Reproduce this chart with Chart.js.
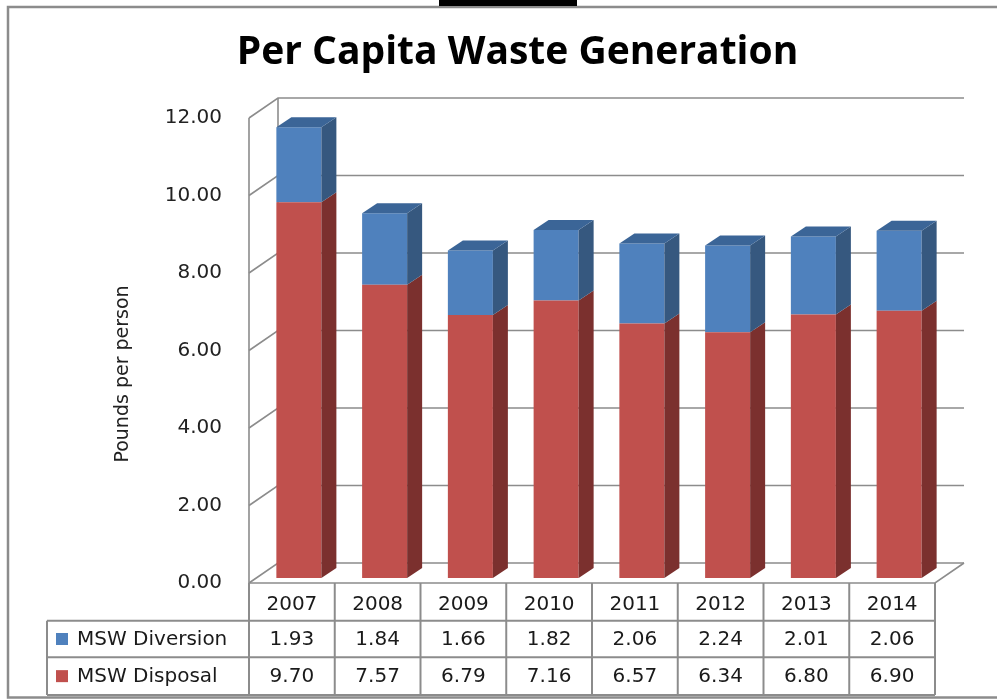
<!DOCTYPE html>
<html>
<head>
<meta charset="utf-8">
<title>Per Capita Waste Generation</title>
<script src="https://cdn.jsdelivr.net/npm/chart.js"></script>
<style>
  html, body { margin: 0; padding: 0; background: #fff; }
  #wrap { width: 997px; height: 700px; position: relative; }
</style>
</head>
<body>
<div id="wrap"><canvas id="chart" width="997" height="700"></canvas></div>
<script>
// values (data table under the chart)
const years = ['2007', '2008', '2009', '2010', '2011', '2012', '2013', '2014'];
const mswDiversion = [1.93, 1.84, 1.66, 1.82, 2.06, 2.24, 2.01, 2.06];
const mswDisposal = [9.70, 7.57, 6.79, 7.16, 6.57, 6.34, 6.80, 6.90];
const yTickValues = [0, 2, 4, 6, 8, 10, 12];

const GRID = '#8c8c8c';
const FONT = '"DejaVu Sans", sans-serif';

// fake 3d: bars and walls are pushed back by these offsets
const barShift = { x: 7, y: -5 };
const barDepth = { x: 15, y: -10 };
const wallDepth = { x: 29, y: -20 };

const faceColors = {
  disposal: { front: '#c0504d', side: '#7b302e', top: '#9b3f3c' },
  diversion: { front: '#4f81bd', side: '#36587f', top: '#3b6597' }
};

function line(ctx, pts) {
  ctx.beginPath();
  ctx.moveTo(pts[0][0], pts[0][1]);
  for (let i = 1; i < pts.length; i++) ctx.lineTo(pts[i][0], pts[i][1]);
  ctx.stroke();
}

function poly(ctx, pts, color) {
  ctx.beginPath();
  ctx.moveTo(pts[0][0], pts[0][1]);
  for (let i = 1; i < pts.length; i++) ctx.lineTo(pts[i][0], pts[i][1]);
  ctx.closePath();
  ctx.fillStyle = color;
  ctx.fill();
}

const threeD = {
  id: 'threeD',
  beforeDraw(chart) {
    const ctx = chart.ctx;
    ctx.save();
    // outer frame + the black tab at the top
    ctx.strokeStyle = GRID;
    ctx.lineWidth = 2.5;
    ctx.strokeRect(8, 7, 1010, 690.5);
    ctx.fillStyle = '#000';
    ctx.fillRect(439, 0, 138, 6);
    ctx.restore();
  },
  beforeDatasetsDraw(chart) {
    const ctx = chart.ctx;
    const { left, right } = chart.chartArea;
    const y = chart.scales.y;
    const dx = wallDepth.x, dy = wallDepth.y;
    ctx.save();
    ctx.strokeStyle = GRID;
    ctx.lineWidth = 1.6;
    yTickValues.forEach(v => {
      const py = y.getPixelForValue(v);
      line(ctx, [[left, py], [left + dx, py + dy], [right + dx, py + dy]]);
    });
    const y0 = y.getPixelForValue(0);
    const yTop = y.getPixelForValue(12);
    line(ctx, [[left, yTop], [left, y0], [right, y0], [right + dx, y0 + dy]]);
    line(ctx, [[left + dx, yTop + dy], [left + dx, y0 + dy]]);
    ctx.restore();
    // front faces are drawn by chart.js, shifted into the middle of the depth
    ctx.save();
    ctx.translate(barShift.x, barShift.y);
  },
  afterDatasetsDraw(chart) {
    const ctx = chart.ctx;
    ctx.restore();
    ctx.save();
    ctx.translate(barShift.x, barShift.y);
    const keys = ['disposal', 'diversion'];
    chart.data.datasets.forEach((ds, di) => {
      const cols = faceColors[keys[di]];
      chart.getDatasetMeta(di).data.forEach(bar => {
        const x0 = bar.x - bar.width / 2, x1 = bar.x + bar.width / 2;
        const yt = bar.y, yb = bar.base;
        const bx = barDepth.x, by = barDepth.y;
        poly(ctx, [[x1, yt], [x1 + bx, yt + by], [x1 + bx, yb + by], [x1, yb]], cols.side);
        if (di === chart.data.datasets.length - 1) {
          poly(ctx, [[x0, yt], [x1, yt], [x1 + bx, yt + by], [x0 + bx, yt + by]], cols.top);
        }
      });
    });
    ctx.restore();
  },
  afterDraw(chart) {
    const ctx = chart.ctx;
    const { left, right, bottom } = chart.chartArea;
    const x = chart.scales.x;
    const colW = (right - left) / years.length;
    const rows = [bottom, bottom + 37.7, bottom + 74.3, bottom + 112];
    const labelLeft = 47;

    ctx.save();
    // axis title
    ctx.translate(123, 374);
    ctx.rotate(-Math.PI / 2);
    ctx.font = '19px ' + FONT;
    ctx.fillStyle = '#222';
    ctx.textAlign = 'center';
    ctx.textBaseline = 'middle';
    ctx.fillText('Pounds per person', 0, 0);
    ctx.restore();

    ctx.save();
    ctx.strokeStyle = GRID;
    ctx.lineWidth = 2;
    // horizontal rules
    line(ctx, [[left, rows[1]], [right, rows[1]]]);
    line(ctx, [[labelLeft, rows[1]], [left, rows[1]]]);
    line(ctx, [[labelLeft, rows[2]], [right, rows[2]]]);
    line(ctx, [[labelLeft, rows[3]], [right, rows[3]]]);
    line(ctx, [[labelLeft, rows[1]], [labelLeft, rows[3]]]);
    for (let i = 0; i <= years.length; i++) {
      const px = left + i * colW;
      line(ctx, [[px, rows[0]], [px, rows[3]]]);
    }

    ctx.font = '20px ' + FONT;
    ctx.fillStyle = '#1a1a1a';
    ctx.textAlign = 'center';
    ctx.textBaseline = 'middle';
    years.forEach((yr, i) => {
      const cx = x.getPixelForValue(i);
      ctx.fillText(yr, cx, (rows[0] + rows[1]) / 2 + 3);
      ctx.fillText(mswDiversion[i].toFixed(2), cx, (rows[1] + rows[2]) / 2 + 1);
      ctx.fillText(mswDisposal[i].toFixed(2), cx, (rows[2] + rows[3]) / 2 + 1);
    });

    // series labels with colour keys
    const seriesRows = [
      ['MSW Diversion', faceColors.diversion.front],
      ['MSW Disposal', faceColors.disposal.front]
    ];
    ctx.textAlign = 'left';
    seriesRows.forEach(([name, col], r) => {
      const cy = (rows[r + 1] + rows[r + 2]) / 2;
      ctx.fillStyle = col;
      ctx.fillRect(56, cy - 6, 12, 12);
      ctx.fillStyle = '#1a1a1a';
      ctx.fillText(name, 77, cy + 1);
    });
    ctx.restore();
  }
};

new Chart(document.getElementById('chart'), {
  type: 'bar',
  data: {
    labels: years,
    datasets: [
      {
        label: 'MSW Disposal',
        data: mswDisposal,
        backgroundColor: faceColors.disposal.front,
        categoryPercentage: 1,
        barPercentage: 0.525
      },
      {
        label: 'MSW Diversion',
        data: mswDiversion,
        backgroundColor: faceColors.diversion.front,
        categoryPercentage: 1,
        barPercentage: 0.525
      }
    ]
  },
  options: {
    responsive: false,
    animation: false,
    layout: { padding: { left: 100, right: 62, top: 0, bottom: 117 } },
    plugins: {
      legend: { display: false },
      tooltip: { enabled: false },
      title: {
        display: true,
        text: 'Per Capita Waste Generation',
        color: '#000',
        font: { family: '"Open Sans", sans-serif', size: 39, weight: 'bold', lineHeight: 1.2 },
        padding: { top: 29.6, bottom: 41.6 }
      }
    },
    scales: {
      x: {
        display: false,
        stacked: true
      },
      y: {
        stacked: true,
        min: 0,
        max: 12,
        afterFit(scale) { scale.width = 149; },
        afterBuildTicks(scale) { scale.ticks = yTickValues.map(v => ({ value: v })); },
        grid: { display: false, drawTicks: false },
        border: { display: false },
        ticks: {
          padding: 27,
          color: '#222',
          font: { family: FONT, size: 20 },
          callback: v => Number(v).toFixed(2)
        }
      }
    }
  },
  plugins: [threeD]
});
</script>
</body>
</html>
